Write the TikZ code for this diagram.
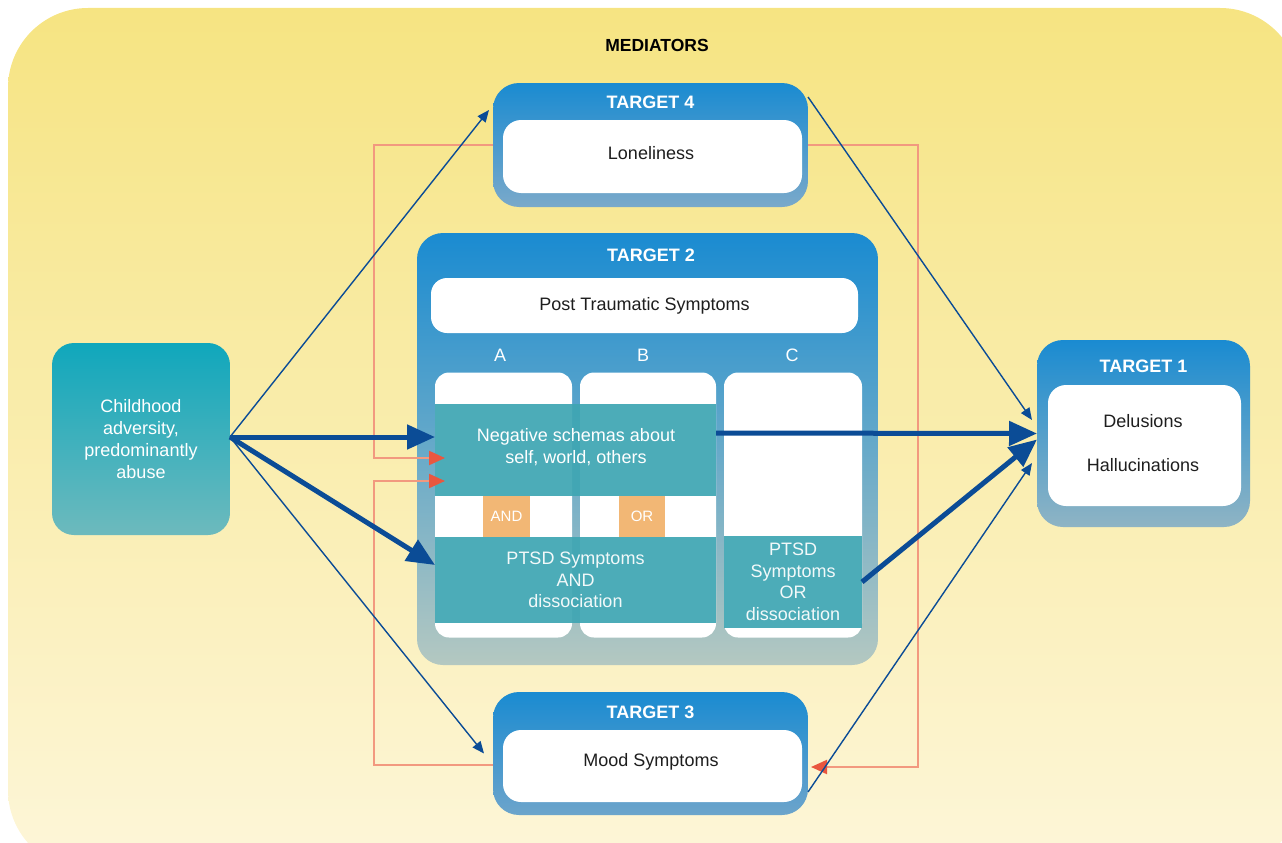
\documentclass[tikz,border=0pt]{standalone}
\usepackage{fontspec}
\setmainfont{Liberation Sans}
\usetikzlibrary{arrows.meta}

\definecolor{yelTop}{HTML}{F6E482}
\definecolor{yelBot}{HTML}{FDF6D9}
\definecolor{childTop}{HTML}{10A7BC}
\definecolor{childBot}{HTML}{6DBABD}
\definecolor{blueTop}{HTML}{1A8BD1}
\definecolor{tFourBot}{HTML}{7AA9CA}
\definecolor{tThreeBot}{HTML}{6CA4CB}
\definecolor{tOneBot}{HTML}{8FB4C4}
\definecolor{tTwoMid}{HTML}{5F9DCB}
\definecolor{tTwoBot}{HTML}{B4C8C1}
\definecolor{tealBand}{HTML}{3FA6B3}
\definecolor{gateOrange}{HTML}{F2B775}
\definecolor{arrowBlue}{HTML}{0B4C96}
\definecolor{fbLine}{HTML}{F2997F}
\definecolor{fbTip}{HTML}{E9573F}
\definecolor{darkText}{HTML}{1E1E1E}

\begin{document}
\begin{tikzpicture}[x=1pt,y=-1pt,
  every node/.style={inner sep=0pt, outer sep=0pt},
  txt/.style={font=\fontsize{18}{21.5}\selectfont, align=center},
  head/.style={font=\bfseries\fontsize{18}{21}\selectfont, text=white},
  target/.style={rounded corners=26pt, top color=blueTop, bottom color=#1},
  whitebox/.style={rounded corners=18pt, fill=white, txt, text=darkText},
  column/.style={rounded corners=14pt, fill=white},
  band/.style={fill=tealBand, fill opacity=0.93, txt, text=white},
  gate/.style={fill=gateOrange, text=white, font=\fontsize{15}{17}\selectfont},
  thick/.style={draw=arrowBlue, line width=5pt, -{Triangle[length=28pt,width=24pt]}},
  thin/.style={draw=arrowBlue, line width=1.4pt, -{Triangle[length=12pt,width=10pt]}},
  feedback/.style={draw=fbLine, line width=2pt, -{Triangle[length=16pt,width=14pt,color=fbTip]}}
]
\useasboundingbox (0,0) rectangle (1282,843);
\clip (0,0) rectangle (1282,843);

% background panel
\path[rounded corners=80pt, top color=yelTop, bottom color=yelBot] (8,8) rectangle (1300,870);
\node[font=\bfseries\fontsize{17.5}{20}\selectfont] (med) at (657,45) {MEDIATORS};

% source
\node[rounded corners=22pt, top color=childTop, bottom color=childBot,
      minimum width=178pt, minimum height=192pt, txt, text=white,
      font=\fontsize{18}{22}\selectfont] (child) at (141,439)
  {Childhood\\adversity,\\predominantly\\abuse};

% target 4
\node[target=tFourBot, minimum width=315pt, minimum height=124pt] (t4) at (650.5,145) {};
\node[head] (t4h) at (650.5,102) {TARGET 4};
\node[whitebox, minimum width=299pt, minimum height=73pt] (lone) at (652.5,156.5) {};
\node[txt, text=darkText] (lonetxt) at (651,153) {Loneliness};

% target 2
\node[rounded corners=26pt, top color=blueTop, middle color=tTwoMid, bottom color=tTwoBot,
      minimum width=461pt, minimum height=432pt] (t2) at (647.5,449) {};
\node[head] (t2h) at (651,255) {TARGET 2};
\node[whitebox, rounded corners=16pt, minimum width=427pt, minimum height=55pt] (pts) at (644.5,305.5)
  {Post Traumatic Symptoms};
\node[txt, text=white] (la) at (500,355) {A};
\node[txt, text=white] (lb) at (643,355) {B};
\node[txt, text=white] (lc) at (792,355) {C};

\node[column, minimum width=137pt, minimum height=265pt] (colA) at (503.5,505) {};
\node[column, minimum width=136pt, minimum height=265pt] (colB) at (648,505) {};
\node[column, minimum width=138pt, minimum height=265pt] (colC) at (793,505) {};

\node[band, minimum width=281pt, minimum height=92pt] (neg) at (575.5,450) {};
\node[txt, text=white] (negtxt) at (576,447) {Negative schemas about\\self, world, others};
\node[band, minimum width=281pt, minimum height=86pt] (ptsd) at (575.5,580)
  {PTSD Symptoms\\AND\\dissociation};
\node[band, minimum width=138pt, minimum height=92pt] (ptsdC) at (793,582)
  {PTSD\\Symptoms\\OR\\dissociation};
\node[gate, minimum width=47pt, minimum height=41pt] (and) at (506.5,516.5) {AND};
\node[gate, minimum width=46pt, minimum height=41pt] (or) at (642,516.5) {OR};

% target 3
\node[target=tThreeBot, minimum width=315pt, minimum height=123pt] (t3) at (650.5,753.5) {};
\node[head] (t3h) at (650.5,712) {TARGET 3};
\node[whitebox, minimum width=299pt, minimum height=72pt] (mood) at (652.5,766) {};
\node[txt, text=darkText] (moodtxt) at (651,762) {Mood Symptoms};

% target 1
\node[target=tOneBot, minimum width=213pt, minimum height=187pt] (t1) at (1143.5,433.5) {};
\node[head] (t1h) at (1143.5,366) {TARGET 1};
\node[whitebox, minimum width=193pt, minimum height=121pt] (symp) at (1144.5,445.5) {};
\node[txt, text=darkText] (del) at (1143,421) {Delusions};
\node[txt, text=darkText] (hal) at (1143,465) {Hallucinations};

% feedback loops
\draw[feedback] (t4.west) -- ++(-119,0) |- ([xshift=10pt,yshift=-8pt]neg.west);
\draw[feedback] ([yshift=-11.5pt]t3.west) -- ++(-119,0) |- ([xshift=10pt,yshift=-31pt]neg.west);
\draw[feedback] (t4.east) -- ++(110,0) |- ([xshift=3pt,yshift=-13.5pt]t3.east);

% paths from the source
\draw[thin] ([yshift=2pt]child.east) -- ([xshift=-4pt,yshift=35pt]t4.west);
\draw[thick] ([yshift=2pt]child.east) -- ([yshift=13pt]neg.west);
\draw[thick] ([yshift=2pt]child.east) -- ([yshift=15pt]ptsd.west);
\draw[thin] ([yshift=2pt]child.east) -- ([xshift=-9pt]t3.west);

% paths into target 1
\draw[thin] ([yshift=-14pt]t4.north east) -- ([xshift=-5pt,yshift=13.5pt]t1.west);
\draw[thick] ([yshift=17pt]neg.east) -- (t1.west);
\draw[thick] (ptsdC.east) -- ([yshift=-6pt]t1.west);
\draw[thin] ([yshift=-38.5pt]t3.east) -- ([xshift=-5pt,yshift=-29.5pt]t1.west);
\end{tikzpicture}
\end{document}
